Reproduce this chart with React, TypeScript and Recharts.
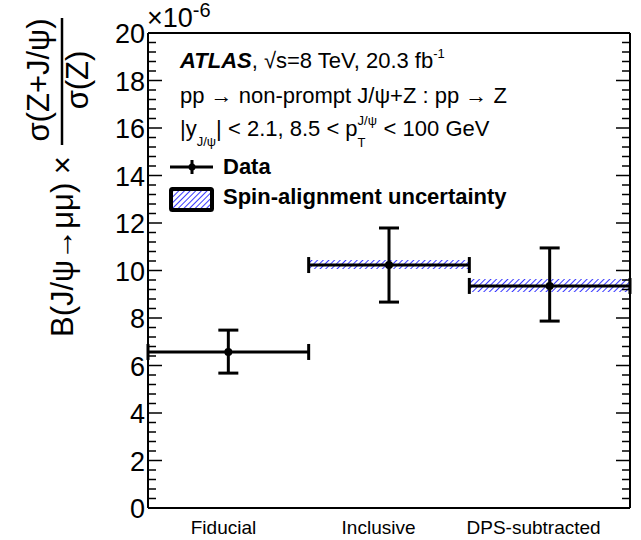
import { ComposedChart, Scatter, ErrorBar, XAxis, YAxis, ReferenceArea, ReferenceLine } from 'recharts';

// bins (x in bin units), measured ratio in units of 1e-6
const categories = ['Fiducial', 'Inclusive', 'DPS-subtracted'];
const binCenters = [0.5, 1.5, 2.5];
const binHalfWidth = [0.5, 0.5, 0.5];
const values = [6.57, 10.23, 9.35];
const errDown = [0.89, 1.56, 1.48];
const errUp = [0.92, 1.56, 1.6];
// spin-alignment band (none drawn for fiducial)
const spinLow = [null, 10.06, 9.09];
const spinHigh = [null, 10.44, 9.64];
const binEdges = [0, 1, 2, 3];

// label anchor positions (ROOT puts them a bit left of centre)
const labelPos = [0.47, 1.435, 2.4];
const majorTicks = [0, 2, 4, 6, 8, 10, 12, 14, 16, 18, 20];

const minorTicks: number[] = [];
for (let i = 0; i <= 50; i++) minorTicks.push(Math.round(i * 0.4 * 10) / 10);

const points = categories.map((c, i) => ({
  name: c,
  x: binCenters[i],
  y: values[i],
  ex: binHalfWidth[i],
  ey: [errDown[i], errUp[i]],
}));

const PLOT_LEFT = 148;
const PLOT_RIGHT = 630;
const FONT = 'Liberation Sans, Arial, Helvetica, sans-serif';
const HATCH = '#2222ff';

const YTick = (props: any) => {
  const { y, payload } = props;
  const v = payload.value;
  const major = majorTicks.includes(v);
  const len = major ? 14 : 8;
  return (
    <g>
      <line x1={PLOT_LEFT} x2={PLOT_LEFT + len} y1={y} y2={y} stroke="#000" strokeWidth={1.5} />
      <line x1={PLOT_RIGHT} x2={PLOT_RIGHT - len} y1={y} y2={y} stroke="#000" strokeWidth={1.5} />
      {major && (
        <text x={PLOT_LEFT - 3} y={y} dy={10} textAnchor="end" fontSize={27} fontFamily={FONT} fill="#000">
          {v}
        </text>
      )}
    </g>
  );
};

const XTick = (props: any) => {
  const { x, y, index } = props;
  return (
    <text x={x} y={y} dy={18} textAnchor="middle" fontSize={19} fontFamily={FONT} fill="#000">
      {categories[index]}
    </text>
  );
};

const Dot = (props: any) => <circle cx={props.cx} cy={props.cy} r={4} fill="#000" />;

const sub = { fontSize: 13, position: 'relative' as const };

export default function App() {
  return (
    <div style={{ position: 'absolute', left: 0, top: 0, width: 641, height: 540, background: '#fff', fontFamily: FONT }}>
      <ComposedChart width={641} height={540} data={points} margin={{ top: 33, right: 11, bottom: 0, left: 0 }}>
        <defs>
          <pattern id="hatch" width="4" height="4" patternUnits="userSpaceOnUse" patternTransform="rotate(45)">
            <line x1="0" y1="0" x2="0" y2="4" stroke={HATCH} strokeWidth="1.8" />
          </pattern>
        </defs>
        <XAxis
          type="number"
          dataKey="x"
          domain={[0, 3]}
          ticks={labelPos}
          interval={0}
          tickLine={false}
          axisLine={{ stroke: '#000', strokeWidth: 2 }}
          height={32}
          tick={<XTick />}
        />
        <YAxis
          type="number"
          dataKey="y"
          domain={[0, 20]}
          ticks={minorTicks}
          interval={0}
          width={148}
          tickLine={false}
          tickSize={0}
          axisLine={{ stroke: '#000', strokeWidth: 2 }}
          tick={<YTick />}
        />
        <ReferenceLine y={20} stroke="#000" strokeWidth={2} />
        <ReferenceLine x={3} stroke="#000" strokeWidth={2} />
        <ReferenceLine
          segment={[{ x: binEdges[0], y: 0 }, { x: binEdges[1], y: 0 }]}
          stroke="#3333ff"
          strokeWidth={1}
          strokeDasharray="2 2"
        />
        {spinLow.map((lo, i) =>
          lo === null ? null : (
            <ReferenceArea
              key={i}
              x1={binEdges[i]}
              x2={binEdges[i + 1]}
              y1={lo}
              y2={spinHigh[i] as number}
              fill="url(#hatch)"
              fillOpacity={1}
              stroke="none"
            />
          )
        )}
        <Scatter dataKey="y" fill="#000" shape={<Dot />} isAnimationActive={false}>
          <ErrorBar dataKey="ex" direction="x" width={8} stroke="#000" strokeWidth={3} />
          <ErrorBar dataKey="ey" direction="y" width={10} stroke="#000" strokeWidth={3} />
        </Scatter>
      </ComposedChart>

      {/* y-axis title */}
      <svg width={110} height={540} style={{ position: 'absolute', left: 0, top: 0 }}>
        <g fontFamily={FONT} fill="#000">
          <text transform="translate(73,337) rotate(-90)" fontSize={31} textAnchor="start">
            B(J/ψ→μμ) ×
          </text>
          <text transform="translate(49,80) rotate(-90)" fontSize={31} textAnchor="middle">
            σ(Z+J/ψ)
          </text>
          <line x1={62} x2={62} y1={18} y2={145} stroke="#000" strokeWidth={2.5} />
          <text transform="translate(88,80) rotate(-90)" fontSize={31} textAnchor="middle">
            σ(Z)
          </text>
        </g>
      </svg>

      {/* exponent */}
      <div style={{ position: 'absolute', left: 147, top: 5, fontSize: 27, lineHeight: '27px' }}>
        ×10<span style={{ fontSize: 20, position: 'relative', top: -10 }}>-6</span>
      </div>

      {/* annotations */}
      <div style={{ position: 'absolute', left: 180, top: 50, fontSize: 22, lineHeight: '22px', whiteSpace: 'nowrap' }}>
        <b><i>ATLAS</i></b>, √s=8 TeV, 20.3 fb<span style={{ ...sub, top: -10 }}>-1</span>
      </div>
      <div style={{ position: 'absolute', left: 180, top: 85, fontSize: 22, lineHeight: '22px', whiteSpace: 'nowrap' }}>
        pp → non-prompt J/ψ+Z : pp → Z
      </div>
      <div style={{ position: 'absolute', left: 180, top: 118, fontSize: 22, lineHeight: '22px', whiteSpace: 'nowrap' }}>
        |y<span style={{ ...sub, top: 10 }}>J/ψ</span>| &lt; 2.1, 8.5 &lt; p
        <span style={{ display: 'inline-block', position: 'relative', width: 26, height: 22, verticalAlign: 'top' }}>
          <span style={{ position: 'absolute', left: 0, top: -8, fontSize: 13 }}>J/ψ</span>
          <span style={{ position: 'absolute', left: 0, top: 14, fontSize: 13 }}>T</span>
        </span>
        &lt; 100 GeV
      </div>

      {/* legend */}
      <svg width={50} height={62} style={{ position: 'absolute', left: 166, top: 152 }}>
        <defs>
          <pattern id="hatchL" width="4" height="4" patternUnits="userSpaceOnUse" patternTransform="rotate(45)">
            <line x1="0" y1="0" x2="0" y2="4" stroke={HATCH} strokeWidth="1.8" />
          </pattern>
        </defs>
        <line x1={4} x2={47} y1={15} y2={15} stroke="#000" strokeWidth={3} />
        <line x1={26} x2={26} y1={8} y2={22} stroke="#000" strokeWidth={3} />
        <circle cx={26} cy={15} r={3.5} fill="#000" />
        <rect x={5} y={37} width={41} height={21} rx={1.5} fill="url(#hatchL)" stroke="#000" strokeWidth={4} />
      </svg>
      <div style={{ position: 'absolute', left: 223, top: 156, fontSize: 22, lineHeight: '22px', fontWeight: 'bold' }}>
        Data
      </div>
      <div style={{ position: 'absolute', left: 223, top: 186, fontSize: 22, lineHeight: '22px', fontWeight: 'bold', whiteSpace: 'nowrap' }}>
        Spin-alignment uncertainty
      </div>
    </div>
  );
}
